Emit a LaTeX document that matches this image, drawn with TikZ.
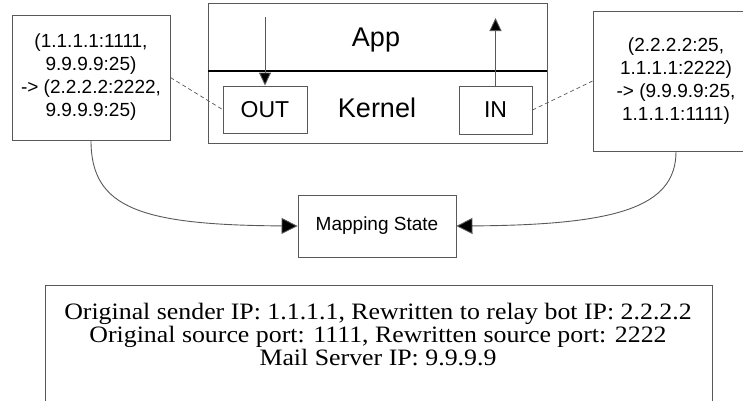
\documentclass[tikz,border=0pt]{standalone}
\usepackage{fontspec}
\setmainfont{Liberation Serif}
\setsansfont{Liberation Sans}
\usetikzlibrary{arrows.meta}

\tikzset{
  frame/.style={draw=black!65, line width=0.9pt, fill=white, inner sep=0pt},
  tuple/.style={frame, font=\sffamily\fontsize{19}{23}\selectfont, align=center},
  port/.style={frame, font=\sffamily\fontsize{23}{23}\selectfont},
  layer/.style={font=\sffamily\fontsize{27}{27}\selectfont},
  flow/.style={draw=black!65, line width=0.9pt, -{Triangle[length=13pt,width=12pt,fill=black]}},
  feed/.style={draw=black!65, line width=0.9pt, -{Triangle[length=16pt,width=16pt,fill=black]}},
  link/.style={draw=black!65, line width=0.7pt, dash pattern=on 4pt off 3pt},
}

\begin{document}
\begin{tikzpicture}[x=1pt, y=-1pt]
  \useasboundingbox (0,0) rectangle (743,400);

  % host: application layer above the kernel
  \node[frame, minimum width=339pt, minimum height=140pt] (host) at (377.5,73) {};
  \draw[black, line width=1.4pt] (host.west |- 0,71) coordinate (divw) -- (host.east |- 0,71) coordinate (dive);
  \node[layer, anchor=base] (app) at (376,46) {App};
  \node[layer, anchor=base] (kernel) at (377,117) {Kernel};

  % kernel hooks
  \node[port, minimum width=84pt, minimum height=47pt] (out) at (265,109.5) {OUT};
  \node[port, minimum width=73pt, minimum height=48pt] (in) at (495.5,110) {IN};
  \coordinate (outsrc) at (265,17);
  \coordinate (indst) at (495.5,18);
  \draw[flow] (outsrc) -- (out.north);
  \draw[flow] (in.north) -- (indst);

  % address rewrites
  \node[tuple, minimum width=158pt, minimum height=125pt] (fwd) at (91,77.5)
    {(1.1.1.1:1111,\\9.9.9.9:25)\\-> (2.2.2.2:2222,\\9.9.9.9:25)};
  \node[tuple, minimum width=166pt, minimum height=140pt] (rev) at (676,81)
    {(2.2.2.2:25,\\1.1.1.1:2222)\\-> (9.9.9.9:25,\\1.1.1.1:1111)};
  \draw[link] (fwd.east) -- (out.west);
  \draw[link] (in.east) -- (rev.west);

  % shared state
  \node[frame, font=\sffamily\fontsize{19}{19}\selectfont,
        minimum width=158pt, minimum height=62pt] (state) at (377,226) {Mapping State};
  \draw[feed] (fwd.south) .. controls (91,208) and (140,225) .. (state.west);
  \draw[feed] (rev.south) .. controls (676,208) and (615,225) .. (state.east);

  % legend (frame runs past the lower edge); text set slightly wide
  \node[frame, minimum width=667pt, minimum height=130pt] (legendbox) at (378.5,350) {};
  \node[font=\rmfamily\fontsize{23.5}{23}\selectfont, inner sep=0pt, anchor=base] (legend) at (378,319)
    {\scalebox{1.1}[1]{\begin{tabular}[t]{@{}c@{}}
       Original sender IP: 1.1.1.1, Rewritten to relay bot IP: 2.2.2.2\\
       Original source port: 1111, Rewritten source port: 2222\\
       Mail Server IP: 9.9.9.9
     \end{tabular}}};
\end{tikzpicture}
\end{document}
